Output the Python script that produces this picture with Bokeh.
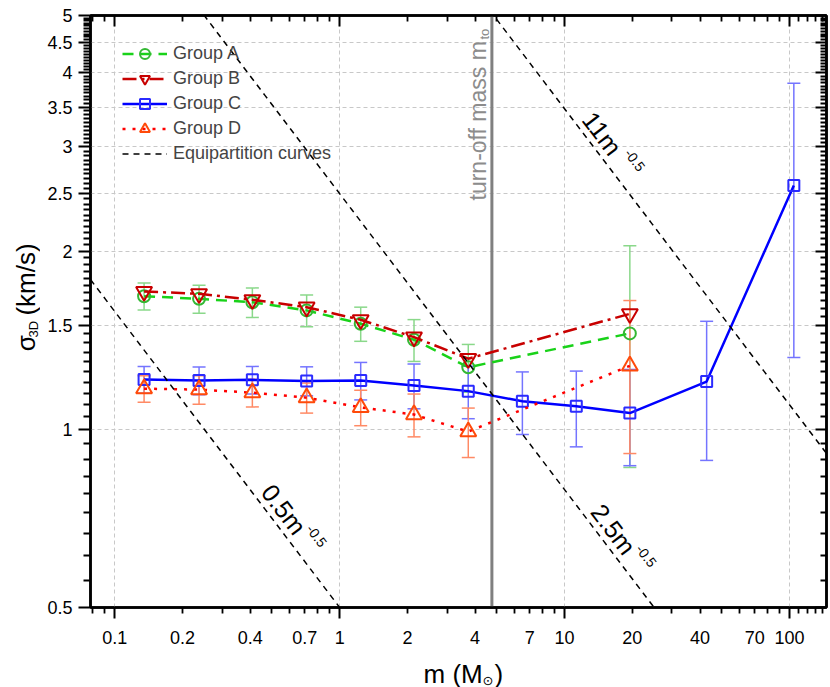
import numpy as np
from bokeh.plotting import figure
from bokeh.layouts import row, column
from bokeh.models import (ColumnDataSource, Whisker, TeeHead, Span, Label, LinearAxis,
                          FixedTicker, Legend, LegendItem, Range1d, Grid, CustomJSTickFormatter)
from bokeh.embed import file_html
from bokeh.resources import INLINE

# ---------------- data ----------------
mass_all = [0.135, 0.237, 0.409, 0.713, 1.24, 2.14, 3.73, 6.49, 11.27, 19.5, 42.8, 104.5]
mass_abd = [0.135, 0.237, 0.409, 0.713, 1.24, 2.14, 3.73, 19.5]

sigma_a = [1.678, 1.661, 1.639, 1.588, 1.508, 1.417, 1.273, 1.452]
err_a = [0.088, 0.090, 0.094, 0.098, 0.100, 0.115, 0.118, 0.590]
sigma_b = [1.709, 1.694, 1.655, 1.608, 1.531, 1.431, 1.316, 1.567]
sigma_c = [1.214, 1.209, 1.212, 1.207, 1.209, 1.186, 1.160, 1.115, 1.094, 1.065, 1.204, 2.582]
err_c = [0.063, 0.065, 0.065, 0.068, 0.088, 0.103, 0.118, 0.135, 0.160, 0.197, 0.318, 1.260]
sigma_d = [1.171, 1.167, 1.153, 1.131, 1.089, 1.059, 0.991, 1.280]
err_d = [0.060, 0.065, 0.062, 0.066, 0.075, 0.088, 0.095, 0.370]

group_names = ["Group A", "Group B", "Group C", "Group D"]
equip_coef = [0.5, 2.5, 11.0]
equip_label_mass = [0.50, 14.6, 13.0]
turnoff_mass = 4.75

x_major = [0.1, 1, 10, 100]
x_labels = [0.1, 0.2, 0.4, 0.7, 1, 2, 4, 7, 10, 20, 40, 70, 100]
y_major = [0.5, 1, 1.5, 2, 2.5, 3, 3.5, 4, 4.5, 5]
y_grid = [1, 1.5, 2, 2.5, 3, 3.5, 4, 4.5]

# ---------------- layout ----------------
YT_W = 40                      # width of the strip holding the y title
ML, MR, MT, MB = 50, 3, 15, 40
FW, FH = 736, 592
W = ML + FW + MR
H = MT + FH + MB
XT_H = 40                      # height of the strip holding the x title
X0, X1 = 0.078, 146.0
Y0, Y1 = 0.5, 5.0
FONT = "Liberation Sans"

p = figure(width=W, height=H, x_axis_type="log", y_axis_type="log",
           x_axis_location=None, y_axis_location=None,
           x_range=Range1d(X0, X1), y_range=Range1d(Y0, Y1),
           output_backend="svg", toolbar_location=None,
           min_border_left=ML, min_border_right=MR, min_border_top=MT, min_border_bottom=MB)
p.outline_line_color = "black"
p.outline_line_width = 2.5
p.background_fill_color = "white"
p.border_fill_color = "white"
p.center = [r for r in p.center if not isinstance(r, Grid)]

fmt = CustomJSTickFormatter(code="return tick.toString();")
x_minor = [0.08, 0.09] + [d * i for d in (0.1, 1, 10) for i in range(2, 10)] + [110, 120, 130, 140]
y_minor = [0.5 + 0.5 / 9 * k for k in range(1, 9)] + \
          [round(1 + 0.05 * k, 3) for k in range(1, 80) if k % 10 != 0]


def tick_axis(ticks, minor, inward):
    ax = LinearAxis(ticker=FixedTicker(ticks=ticks, minor_ticks=minor), formatter=fmt)
    ax.axis_line_width = 2.5
    ax.major_tick_line_width = 2
    ax.minor_tick_line_width = 1.8
    if inward:
        ax.major_tick_in, ax.major_tick_out = 11, 0
        ax.minor_tick_in, ax.minor_tick_out = 6, 0
    else:
        ax.major_tick_in, ax.major_tick_out = 0, 11
        ax.minor_tick_in, ax.minor_tick_out = 0, 6
    ax.major_label_text_font_size = "0px"
    ax.major_label_text_alpha = 0
    ax.major_label_standoff = 0
    return ax


# bottom: ticks + separate label axis
p.add_layout(tick_axis(x_major, x_minor, False), "below")
xl = LinearAxis(ticker=FixedTicker(ticks=x_labels, minor_ticks=[]), formatter=fmt)
xl.axis_line_color = None
xl.major_tick_line_color = None
xl.major_tick_in = xl.major_tick_out = 0
xl.major_label_standoff = 12
xl.major_label_text_font = FONT
xl.major_label_text_font_size = "18px"
xl.major_label_text_color = "black"
p.add_layout(xl, "below")

# left axis with labels
yl = tick_axis(y_major, y_minor, False)
yl.major_tick_out = 12
yl.minor_tick_out = 7
yl.major_label_text_font_size = "18px"
yl.major_label_text_alpha = 1
yl.major_label_text_font = FONT
yl.major_label_text_color = "black"
yl.major_label_standoff = 6
p.add_layout(yl, "left")

p.add_layout(tick_axis(x_major, x_minor, True), "above")
p.add_layout(tick_axis(y_major, y_minor, True), "right")

# grids
for dim, tk in ((0, x_major), (1, y_grid)):
    g = Grid(dimension=dim, ticker=FixedTicker(ticks=tk))
    g.grid_line_color = "#c8c8c8"
    g.grid_line_dash = "4 3"
    g.grid_line_width = 1
    p.add_layout(g, "center")

# turn-off mass line
vline = Span(location=turnoff_mass, dimension="height", line_color="#808080", line_width=3,
             level="underlay")
p.add_layout(vline)


# error bars
def add_err(x, y, e, color):
    src = ColumnDataSource(dict(x=x, lo=[a - b for a, b in zip(y, e)], hi=[a + b for a, b in zip(y, e)]))
    w = Whisker(source=src, base="x", lower="lo", upper="hi", line_color=color, line_width=1.5,
                upper_head=TeeHead(size=13, line_color=color, line_width=1.5),
                lower_head=TeeHead(size=13, line_color=color, line_width=1.5))
    p.add_layout(w)


add_err(mass_abd, sigma_a, err_a, "#8ad88a")
add_err(mass_all, sigma_c, err_c, "#7474ff")
add_err(mass_abd, sigma_d, err_d, "#ff8a65")

# data lines and markers
lA = p.line(mass_abd, sigma_a, line_color="#19d219", line_width=2.5, line_dash="11 7")
sA = p.scatter(mass_abd, sigma_a, marker="circle", size=12, fill_color=None,
               line_color="#33b833", line_width=2)
lB = p.line(mass_abd, sigma_b, line_color="#c80000", line_width=2.5, line_dash="14 5 3 5")
sB = p.scatter(mass_abd, sigma_b, marker="inverted_triangle", size=16, fill_color=None,
               line_color="#c80000", line_width=2)
lC = p.line(mass_all, sigma_c, line_color="#0000ff", line_width=2.5)
sC = p.scatter(mass_all, sigma_c, marker="square", size=11, fill_color=None,
               line_color="#2b2bff", line_width=2)
lD = p.line(mass_abd, sigma_d, line_color="#ff0000", line_width=2.5, line_dash="3 7")
sD = p.scatter(mass_abd, sigma_d, marker="triangle", size=16, fill_color=None,
               line_color="#ff4a0a", line_width=2)

# equipartition curves  sigma = k * m^-0.5
m_curve = np.logspace(np.log10(X0), np.log10(X1), 60)
eq_lines = []
for k in equip_coef:
    eq_lines.append(p.line(m_curve, k * m_curve ** -0.5, line_color="black", line_width=1.5,
                           line_dash="6 5"))

# helpers for placing texts
DX = np.log10(X1 / X0) / FW
DY = np.log10(Y1 / Y0) / FH


def shift(m, s, right, up):
    return m * 10 ** (right * DX), s * 10 ** (up * DY)


theta = float(np.arctan(0.5 * DX / DY))
ux, uy = np.cos(theta), -np.sin(theta)
nx, ny = np.sin(theta), np.cos(theta)

for k, m0 in zip(equip_coef, equip_label_mass):
    s0 = k * m0 ** -0.5
    mx, my = shift(m0, s0, 15 * nx, 15 * ny)
    p.add_layout(Label(x=mx, y=my, text=f"{k:g}m", angle=-theta, text_align="center",
                       text_baseline="middle", text_font=FONT, text_font_size="25px",
                       text_color="black"))
    sx_, sy_ = shift(m0, s0, 25 * nx + 41 * ux, 25 * ny + 41 * uy)
    p.add_layout(Label(x=sx_, y=sy_, text="-0.5", angle=-theta, text_align="center",
                       text_baseline="middle", text_font=FONT, text_font_size="14px",
                       text_color="black"))

# turn-off label
tx, ty = shift(turnoff_mass, Y0, -13.5, 407)
p.add_layout(Label(x=tx, y=ty, text="turn-off mass m", angle=np.pi / 2, text_align="left",
                   text_baseline="alphabetic", text_font=FONT, text_font_size="23px",
                   text_color="#8c8c8c"))
tx2, ty2 = shift(turnoff_mass, Y0, -7.5, 568)
p.add_layout(Label(x=tx2, y=ty2, text="to", angle=np.pi / 2, text_align="left",
                   text_baseline="alphabetic", text_font=FONT, text_font_size="13px",
                   text_color="#8c8c8c"))

# legend
legend = Legend(items=[
    LegendItem(label=group_names[0], renderers=[lA, sA]),
    LegendItem(label=group_names[1], renderers=[lB, sB]),
    LegendItem(label=group_names[2], renderers=[lC, sC]),
    LegendItem(label=group_names[3], renderers=[lD, sD]),
    LegendItem(label="Equipartition curves", renderers=[eq_lines[0]]),
], location=(32, 441))
legend.background_fill_alpha = 0
legend.border_line_color = None
legend.padding = 0
legend.margin = 0
legend.spacing = 0
legend.glyph_width = 45
legend.glyph_height = 25
legend.label_height = 20
legend.label_standoff = 6
legend.label_text_font = FONT
legend.label_text_font_size = "18px"
p.add_layout(legend, "center")


# ---------------- title strips (pixel coordinates) ----------------
def strip(w, h):
    f = figure(width=w, height=h, x_range=Range1d(0, w), y_range=Range1d(0, h),
               x_axis_location=None, y_axis_location=None, output_backend="svg",
               toolbar_location=None, min_border=0)
    f.center = []
    f.outline_line_color = None
    f.background_fill_color = "white"
    f.border_fill_color = "white"
    return f


ytitle = strip(YT_W, H)
bx = YT_W - 14.5            # baseline of the rotated title
for text, dx, fy, size in (("σ", 0, 240, "26px"), ("3D", 7, 255, "13px"), ("(km/s)", 0, 279, "26px")):
    ytitle.add_layout(Label(x=bx + dx, y=MB + fy, text=text, angle=np.pi / 2, text_align="left",
                            text_baseline="alphabetic", text_font=FONT, text_font_size=size,
                            text_color="black"))

xtitle = strip(YT_W + W, XT_H)
fx0 = YT_W + ML             # left edge of the frame
base = XT_H - 26
for text, fx, dy, size, font in (("m (M", 333, 0, "26px", FONT), ("⊙", 392, -7, "13px", "DejaVu Sans"),
                                 (")", 404, 0, "26px", FONT)):
    xtitle.add_layout(Label(x=fx0 + fx, y=base + dy, text=text, text_align="left",
                            text_baseline="alphabetic", text_font=font, text_font_size=size,
                            text_color="black"))

layout = column(row(ytitle, p, spacing=0), xtitle, spacing=0)
open("out.html", "w").write(file_html(layout, INLINE))
